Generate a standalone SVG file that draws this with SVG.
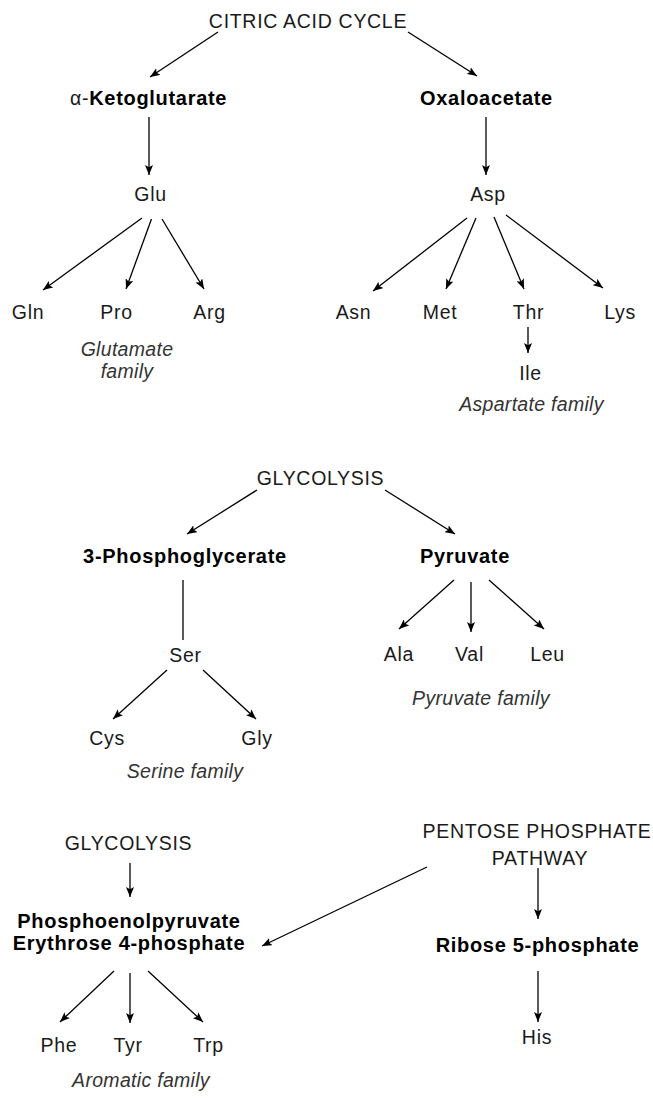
<svg xmlns="http://www.w3.org/2000/svg" width="653" height="1099" viewBox="0 0 653 1099">
<style>
  text { font-family: "Liberation Sans", Arial, Helvetica, sans-serif; fill: #1a1a1a; text-anchor: middle; }
  .r { font-size: 19.5px; letter-spacing: 0.7px; }
  .b { font-size: 20px; font-weight: bold; letter-spacing: 0.7px; fill: #000; }
  .i { font-size: 19.5px; font-style: italic; letter-spacing: 0.3px; fill: #333; }
  .c line { stroke: #000; stroke-width: 1.3; fill: none; }
  .c line.a { marker-end: url(#ah); }
</style>
<defs>
  <marker id="ah" viewBox="0 0 10 8" refX="10" refY="4" markerWidth="10" markerHeight="8" markerUnits="userSpaceOnUse" orient="auto">
    <path d="M0,0 L10,4 L0,8 L2.2,4 Z" fill="#000"/>
  </marker>
</defs>
<rect width="653" height="1099" fill="#fff"/>

<g id="connectors" class="c">
  <line class="a" x1="218" y1="32" x2="150" y2="77"/>
  <line class="a" x1="408" y1="32" x2="477" y2="76"/>
  <line class="a" x1="149" y1="117" x2="149" y2="175"/>
  <line class="a" x1="486" y1="117" x2="486" y2="175"/>
  <line class="a" x1="142" y1="218" x2="43" y2="290"/>
  <line class="a" x1="151.5" y1="219" x2="126" y2="289"/>
  <line class="a" x1="162" y1="219" x2="204" y2="289"/>
  <line class="a" x1="467" y1="218" x2="373" y2="291"/>
  <line class="a" x1="476" y1="218" x2="446" y2="289"/>
  <line class="a" x1="494" y1="217" x2="524" y2="289"/>
  <line class="a" x1="506" y1="215" x2="603" y2="288"/>
  <line class="a" x1="528" y1="327" x2="528" y2="353"/>
  <line class="a" x1="257" y1="490" x2="187" y2="534"/>
  <line class="a" x1="385" y1="490" x2="455" y2="534"/>
  <line x1="183" y1="580" x2="183" y2="640"/>
  <line class="a" x1="167" y1="670" x2="113" y2="719"/>
  <line class="a" x1="203" y1="670" x2="256" y2="719"/>
  <line class="a" x1="454" y1="580" x2="399" y2="629"/>
  <line class="a" x1="471" y1="582" x2="471" y2="632"/>
  <line class="a" x1="489" y1="580" x2="544" y2="629"/>
  <line class="a" x1="130" y1="863" x2="130" y2="897"/>
  <line class="a" x1="427" y1="867" x2="262" y2="946"/>
  <line class="a" x1="538" y1="868" x2="538" y2="919"/>
  <line class="a" x1="114" y1="971" x2="60" y2="1022"/>
  <line class="a" x1="130" y1="973" x2="130" y2="1023"/>
  <line class="a" x1="148" y1="971" x2="203" y2="1022"/>
  <line class="a" x1="538" y1="971" x2="538" y2="1022"/>
</g>

<g id="citric"><text class="r" x="308" y="28">CITRIC ACID CYCLE</text></g>
<g id="akg"><text x="70" y="105" style="text-anchor:start"><tspan class="r">α-</tspan><tspan class="b">Ketoglutarate</tspan></text></g>
<g id="oaa"><text class="b" x="486.5" y="105">Oxaloacetate</text></g>
<g id="glu"><text class="r" x="150.5" y="201">Glu</text></g>
<g id="asp"><text class="r" x="488" y="201">Asp</text></g>
<g id="gln"><text class="r" x="28" y="319">Gln</text></g>
<g id="pro"><text class="r" x="116.5" y="319">Pro</text></g>
<g id="arg"><text class="r" x="209.5" y="319">Arg</text></g>
<g id="glutamate-family"><text class="i" x="127" y="356">Glutamate</text><text class="i" x="127" y="378">family</text></g>
<g id="asn"><text class="r" x="353.5" y="319">Asn</text></g>
<g id="met"><text class="r" x="440" y="319">Met</text></g>
<g id="thr"><text class="r" x="528.5" y="319">Thr</text></g>
<g id="lys"><text class="r" x="620" y="319">Lys</text></g>
<g id="ile"><text class="r" x="530.5" y="380">Ile</text></g>
<g id="aspartate-family"><text class="i" x="531.5" y="411">Aspartate family</text></g>

<g id="glycolysis1"><text class="r" x="320.5" y="485">GLYCOLYSIS</text></g>
<g id="pga"><text class="b" x="185" y="563">3-Phosphoglycerate</text></g>
<g id="pyruvate"><text class="b" x="465" y="563">Pyruvate</text></g>
<g id="ser"><text class="r" x="185.5" y="662">Ser</text></g>
<g id="cys"><text class="r" x="107" y="745">Cys</text></g>
<g id="gly"><text class="r" x="257" y="745">Gly</text></g>
<g id="serine-family"><text class="i" x="185" y="778">Serine family</text></g>
<g id="ala"><text class="r" x="399" y="661">Ala</text></g>
<g id="val"><text class="r" x="469.5" y="661">Val</text></g>
<g id="leu"><text class="r" x="547.5" y="661">Leu</text></g>
<g id="pyruvate-family"><text class="i" x="481" y="705">Pyruvate family</text></g>

<g id="glycolysis2"><text class="r" x="128.5" y="850">GLYCOLYSIS</text></g>
<g id="ppp"><text class="r" x="537" y="838">PENTOSE PHOSPHATE</text><text class="r" x="540" y="865">PATHWAY</text></g>
<g id="pep-e4p"><text class="b" x="129" y="928">Phosphoenolpyruvate</text><text class="b" x="129" y="950">Erythrose 4-phosphate</text></g>
<g id="r5p"><text class="b" x="537.5" y="952">Ribose 5-phosphate</text></g>
<g id="phe"><text class="r" x="59" y="1052">Phe</text></g>
<g id="tyr"><text class="r" x="128" y="1052">Tyr</text></g>
<g id="trp"><text class="r" x="208.5" y="1052">Trp</text></g>
<g id="his"><text class="r" x="537" y="1044">His</text></g>
<g id="aromatic-family"><text class="i" x="141" y="1087">Aromatic family</text></g>
</svg>
